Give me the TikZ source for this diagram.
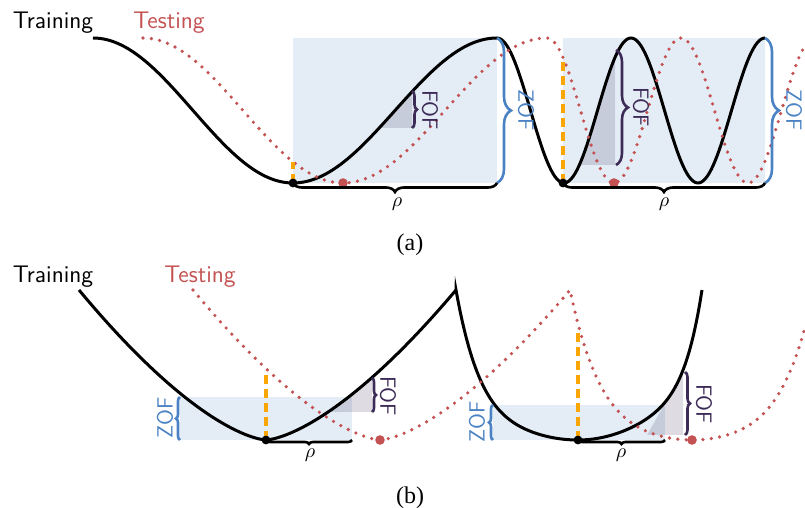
\documentclass[tikz,border=0pt]{standalone}
\usepackage{fontspec}
\setmainfont{Liberation Serif}
\usepackage{tikz}
\usetikzlibrary{decorations.pathreplacing}
\definecolor{testred}{rgb}{0.77, 0.32, 0.32}
\definecolor{zofblue}{rgb}{0.29, 0.51, 0.77}
\definecolor{fofpurple}{rgb}{0.24, 0.17, 0.34}
\definecolor{guiaorange}{rgb}{0.99, 0.65, 0.02}
\tikzset{
  train/.style={
    line width=1.5pt,
    black
  },
  testc/.style={
    line width=1.8pt,
    testred,
    line cap=round,
    dash pattern=on 0pt off 4.2pt
  },
  guia/.style={
    line width=1.6pt,
    guiaorange,
    dash pattern=on 4.5pt off 2.5pt
  },
  zofbox/.style={
    fill=zofblue,
    fill opacity=.15
  },
  fofarea/.style={
    fill=fofpurple,
    fill opacity=.17
  },
  llave/.style={
    decorate,
    decoration={brace, amplitude=#1},
    line width=1.3pt
  },
  llave/.default=4pt,
  zoflabel/.style={
    zofblue,
    font=\sffamily\fontsize{11}{13}\selectfont,
    inner sep=0pt
  },
  foflabel/.style={
    fofpurple,
    font=\sffamily\fontsize{11}{13}\selectfont,
    inner sep=0pt
  },
  rholabel/.style={
    inner sep=0pt
  },
  curvename/.style={
    font=\sffamily\large,
    anchor=base,
    inner sep=0pt
  },
  subfig/.style={
    font=\large,
    inner sep=0pt
  }
}

\begin{document}
\begin{tikzpicture}[x=0.5pt, y=-0.5pt,
  declare function={ondaA(\x)=(\x<293) ? 110.5-72.5*cos(180*((\x-93)/200)) : ((\x<497) ? 110.5+72.5*cos(180*((\x-293)/204)) : 110.5-72.5*cos(180*((\x-497)/67)));}]
\useasboundingbox (0,0) rectangle (805,508);
% (a)
\coordinate (minA1) at (293,183);
\coordinate (topA1) at (497,38);
\coordinate (minA2) at (563,183);
\coordinate (topA2) at (765,38);
\fill[zofbox] (minA1 |- topA1) rectangle (topA1 |- minA1);
\fill[zofbox] (minA2 |- topA2) rectangle (topA2 |- minA2);
\fill[fofarea] (379,128) -- (412,91) -- (412,128) -- cycle;
\fill[fofarea] (580,165) -- (615,57) -- (615,165) -- cycle;
\draw[train] plot[domain=93:765, samples=337] (\x, {ondaA(\x)});
\draw[testc] plot[domain=143:805, samples=332] (\x, {ondaA(\x-50)});
\coordinate (cutA1) at (293,162);
\coordinate (cutA2) at (563,59);
\draw[guia] (minA1) -- (cutA1);
\draw[guia] (minA2) -- (cutA2);
\coordinate (tminA1) at (343,183);
\coordinate (tminA2) at (614,183);
\fill (minA1) circle (2.2pt);
\fill (minA2) circle (2.2pt);
\fill[testred] (tminA1) circle (2.4pt);
\fill[testred] (tminA2) circle (2.4pt);
\draw[llave=7pt, zofblue] (topA1) -- (topA1 |- minA1);
\draw[llave=7pt, zofblue] (topA2) -- (topA2 |- minA2);
\draw[llave=4.5pt] (topA1 |- minA1) -- (minA1);
\draw[llave=4.5pt] (topA2 |- minA2) -- (minA2);
\coordinate (fofA1t) at (412,91);
\coordinate (fofA1b) at (412,128);
\coordinate (fofA2t) at (616,50);
\coordinate (fofA2b) at (616,165);
\draw[llave=2.5pt, fofpurple] (fofA1t) -- (fofA1b);
\draw[llave=6pt, fofpurple] (fofA2t) -- (fofA2b);
\node[zoflabel, rotate=-90] (zofA1) at (526,110) {ZOF};
\node[zoflabel, rotate=-90] (zofA2) at (794,110) {ZOF};
\node[foflabel, rotate=-90] (fofA1) at (430,110) {FOF};
\node[foflabel, rotate=-90] (fofA2) at (641,107) {FOF};
\node[rholabel] (rhoA1) at (397,204) {$\rho$};
\node[rholabel] (rhoA2) at (664,204) {$\rho$};
\node[curvename] (trainA) at (53,29) {Training};
\node[curvename, testred] (testA) at (169,29) {Testing};
\node[subfig] (capA) at (410,245) {(a)};
% (b)
\coordinate (minB1) at (266,440);
\coordinate (zofB1) at (180,397);
\coordinate (rhoB1) at (352,440);
\coordinate (minB2) at (578,440);
\coordinate (zofB2) at (493,405);
\coordinate (rhoB2) at (665,440);
\fill[zofbox] (zofB1) rectangle (rhoB1);
\fill[zofbox] (zofB2) rectangle (rhoB2);
\fill[fofarea] (328,412) -- (372,378) -- (372,412) -- cycle;
\fill[fofarea] (647,435) -- (683,372) -- (683,435) -- cycle;
\draw[train] plot[domain=79:266, samples=50] (\x, {440-150*((266-\x)/187)*sqrt(abs(266-\x)/187)})
  -- plot[domain=266:456, samples=50] (\x, {440-150*((\x-266)/190)*sqrt(abs(\x-266)/190)})
  -- plot[domain=456:578, samples=60] (\x, {440-55*((578-\x)/122)^2-95*((578-\x)/122)^6})
  -- plot[domain=578:702, samples=60] (\x, {440-66.7*((\x-578)/124)^2-83.3*((\x-578)/124)^8});
\draw[testc] plot[domain=193:380, samples=50] (\x, {440-150*((380-\x)/187)*sqrt(abs(380-\x)/187)})
  -- plot[domain=380:570, samples=50] (\x, {440-150*((\x-380)/190)*sqrt(abs(\x-380)/190)})
  -- plot[domain=570:692, samples=60] (\x, {440-58.5*((692-\x)/122)^2-91.5*((692-\x)/122)^5})
  -- plot[domain=692:805, samples=60] (\x, {440-58.5*((\x-692)/122)^2-91.5*((\x-692)/122)^5});
\coordinate (cutB1) at (266,371);
\coordinate (cutB2) at (578,333);
\draw[guia] (minB1) -- (cutB1);
\draw[guia] (minB2) -- (cutB2);
\coordinate (tminB1) at (380,440);
\coordinate (tminB2) at (692,440);
\fill (minB1) circle (2.2pt);
\fill (minB2) circle (2.2pt);
\fill[testred] (tminB1) circle (2.4pt);
\fill[testred] (tminB2) circle (2.4pt);
\draw[llave=2pt, zofblue] (zofB1 |- minB1) -- (zofB1);
\draw[llave=2pt, zofblue] (zofB2 |- minB2) -- (zofB2);
\draw[llave=2pt] (rhoB1) -- (minB1);
\draw[llave=2pt] (rhoB2) -- (minB2);
\coordinate (fofB1t) at (372,378);
\coordinate (fofB1b) at (372,412);
\coordinate (fofB2t) at (685,372);
\coordinate (fofB2b) at (685,435);
\draw[llave=2pt, fofpurple] (fofB1t) -- (fofB1b);
\draw[llave=2.5pt, fofpurple] (fofB2t) -- (fofB2b);
\node[zoflabel, rotate=90] (zofB1l) at (165,418) {ZOF};
\node[zoflabel, rotate=90] (zofB2l) at (477,422) {ZOF};
\node[foflabel, rotate=-90] (fofB1) at (388,396) {FOF};
\node[foflabel, rotate=-90] (fofB2) at (704,404) {FOF};
\node[rholabel] (rhoB1l) at (310,455) {$\rho$};
\node[rholabel] (rhoB2l) at (621,455) {$\rho$};
\node[curvename] (trainB) at (53,283) {Training};
\node[curvename, testred] (testB) at (200,283) {Testing};
\node[subfig] (capB) at (410,498) {(b)};
\end{tikzpicture}
\end{document}
